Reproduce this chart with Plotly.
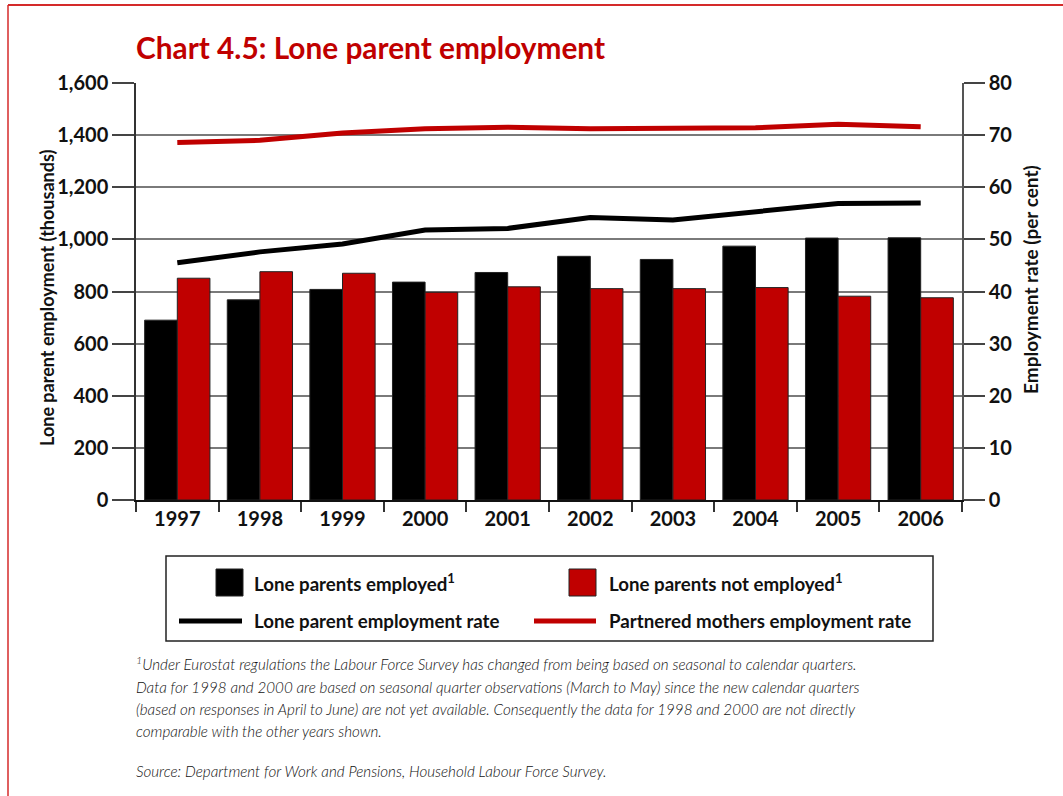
import plotly.graph_objects as go

# Lone parent employment, 1997-2006
years = ["1997", "1998", "1999", "2000", "2001", "2002", "2003", "2004", "2005", "2006"]
employed = [690, 768, 808, 836, 873, 935, 923, 974, 1005, 1006]          # thousands
not_employed = [851, 876, 870, 797, 818, 811, 811, 815, 782, 776]        # thousands
lone_rate = [45.5, 47.6, 49.1, 51.8, 52.1, 54.2, 53.7, 55.2, 56.9, 57.0]  # per cent
partnered_rate = [68.6, 69.0, 70.4, 71.2, 71.5, 71.2, 71.3, 71.4, 72.1, 71.6]  # per cent

left_ticks = [0, 200, 400, 600, 800, 1000, 1200, 1400, 1600]
right_ticks = [0, 10, 20, 30, 40, 50, 60, 70, 80]

RED = "#c00000"
W, H = 1063, 796
PL, PR, PT, PB = 136, 962, 83, 500  # plot area in pixels


def px_x(p):
    return (p - PL) / (PR - PL)


def px_y(p):
    return (PB - p) / (PB - PT)


BOLD = "Lato"
tick_font = dict(family=BOLD, size=20, color="#111", weight="bold")

fig = go.Figure()
fig.add_trace(go.Bar(x=years, y=employed, name="Lone parents employed",
                     marker=dict(color="#000000", line=dict(color="#222", width=1))))
fig.add_trace(go.Bar(x=years, y=not_employed, name="Lone parents not employed",
                     marker=dict(color=RED, line=dict(color="#222", width=1))))
fig.add_trace(go.Scatter(x=years, y=lone_rate, yaxis="y2", mode="lines",
                         name="Lone parent employment rate",
                         line=dict(color="#000000", width=5)))
fig.add_trace(go.Scatter(x=years, y=partnered_rate, yaxis="y2", mode="lines",
                         name="Partnered mothers employment rate",
                         line=dict(color=RED, width=5)))

shapes = []
annotations = []

# page frame
shapes.append(dict(type="line", xref="paper", yref="paper",
                   x0=px_x(8), x1=px_x(W + 5), y0=px_y(5), y1=px_y(5),
                   line=dict(color="#d42a2a", width=2)))
shapes.append(dict(type="line", xref="paper", yref="paper",
                   x0=px_x(8), x1=px_x(8), y0=px_y(5), y1=px_y(H + 5),
                   line=dict(color="#d42a2a", width=1.5)))

# title
annotations.append(dict(xref="paper", yref="paper", x=px_x(134), y=px_y(47),
                        xanchor="left", yanchor="middle", showarrow=False,
                        text="Chart 4.5: Lone parent employment",
                        font=dict(family=BOLD, size=29.8, color=RED, weight="bold")))

# axis titles
annotations.append(dict(xref="paper", yref="paper", x=px_x(47), y=px_y(298),
                        xanchor="center", yanchor="middle", showarrow=False, textangle=-90,
                        text="Lone parent employment (thousands)",
                        font=dict(family=BOLD, size=18, color="#111", weight="bold")))
annotations.append(dict(xref="paper", yref="paper", x=px_x(1030), y=px_y(280),
                        xanchor="center", yanchor="middle", showarrow=False, textangle=-90,
                        text="Employment rate (per cent)",
                        font=dict(family=BOLD, size=19, color="#111", weight="bold")))

# legend box
shapes.append(dict(type="rect", xref="paper", yref="paper",
                   x0=px_x(166), x1=px_x(933), y0=px_y(556), y1=px_y(641),
                   line=dict(color="#222", width=1.5), fillcolor="white"))
shapes.append(dict(type="rect", xref="paper", yref="paper",
                   x0=px_x(216), x1=px_x(243), y0=px_y(569), y1=px_y(596),
                   line=dict(color="#222", width=1), fillcolor="#000000"))
shapes.append(dict(type="rect", xref="paper", yref="paper",
                   x0=px_x(569), x1=px_x(596), y0=px_y(569), y1=px_y(596),
                   line=dict(color="#222", width=1), fillcolor=RED))
shapes.append(dict(type="line", xref="paper", yref="paper",
                   x0=px_x(179), x1=px_x(242), y0=px_y(621), y1=px_y(621),
                   line=dict(color="#000000", width=5)))
shapes.append(dict(type="line", xref="paper", yref="paper",
                   x0=px_x(534), x1=px_x(596), y0=px_y(621), y1=px_y(621),
                   line=dict(color=RED, width=5)))
legend_font = dict(family=BOLD, size=18.7, color="#111", weight="bold")
for x, y, t in [(252, 582, "Lone parents employed<sup>1</sup>"),
                (607, 582, "Lone parents not employed<sup>1</sup>"),
                (252, 621, "Lone parent employment rate"),
                (607, 621, "Partnered mothers employment rate")]:
    annotations.append(dict(xref="paper", yref="paper", x=px_x(x), y=px_y(y),
                            xanchor="left", yanchor="middle", showarrow=False,
                            text=t, font=legend_font))

# notes
note_font = dict(family=BOLD, size=15.2, color="#111", style="italic", weight=300)
notes = [
    (663, "<sup>1</sup>Under Eurostat regulations the Labour Force Survey has changed from being based on seasonal to calendar quarters."),
    (687, "Data for 1998 and 2000 are based on seasonal quarter observations (March to May) since the new calendar quarters"),
    (709, "(based on responses in April to June) are not yet available. Consequently the data for 1998 and 2000 are not directly"),
    (731, "comparable with the other years shown."),
    (771, "Source: Department for Work and Pensions, Household Labour Force Survey."),
]
for y, t in notes:
    annotations.append(dict(xref="paper", yref="paper", x=px_x(134), y=px_y(y),
                            xanchor="left", yanchor="middle", showarrow=False,
                            text=t, font=note_font))

fig.update_layout(
    width=W, height=H,
    margin=dict(l=PL, r=W - PR, t=PT, b=H - PB, pad=0),
    paper_bgcolor="white", plot_bgcolor="white",
    barmode="group", bargap=0.21, bargroupgap=0,
    showlegend=False,
    shapes=shapes, annotations=annotations,
    xaxis=dict(type="category", tickson="boundaries", ticks="outside", ticklen=10,
               tickwidth=1.5, tickcolor="#333", showline=True, linecolor="#111",
               linewidth=1.5, showgrid=False, tickfont=tick_font),
    yaxis=dict(range=[0, 1600], tickvals=left_ticks, tickformat=",", ticks="outside",
               ticklen=22, tickwidth=1.5, tickcolor="#444", showline=True,
               linecolor="#333", linewidth=1.5, showgrid=True, gridcolor="#7a7a7a",
               gridwidth=1.5, zeroline=False, tickfont=tick_font),
    yaxis2=dict(range=[0, 80], tickvals=right_ticks, overlaying="y", side="right",
                ticks="outside", ticklen=21, tickwidth=1.5, tickcolor="#444",
                showline=True, linecolor="#555", linewidth=1.5, showgrid=False,
                zeroline=False, tickfont=tick_font),
)

fig.write_html("out.html")
